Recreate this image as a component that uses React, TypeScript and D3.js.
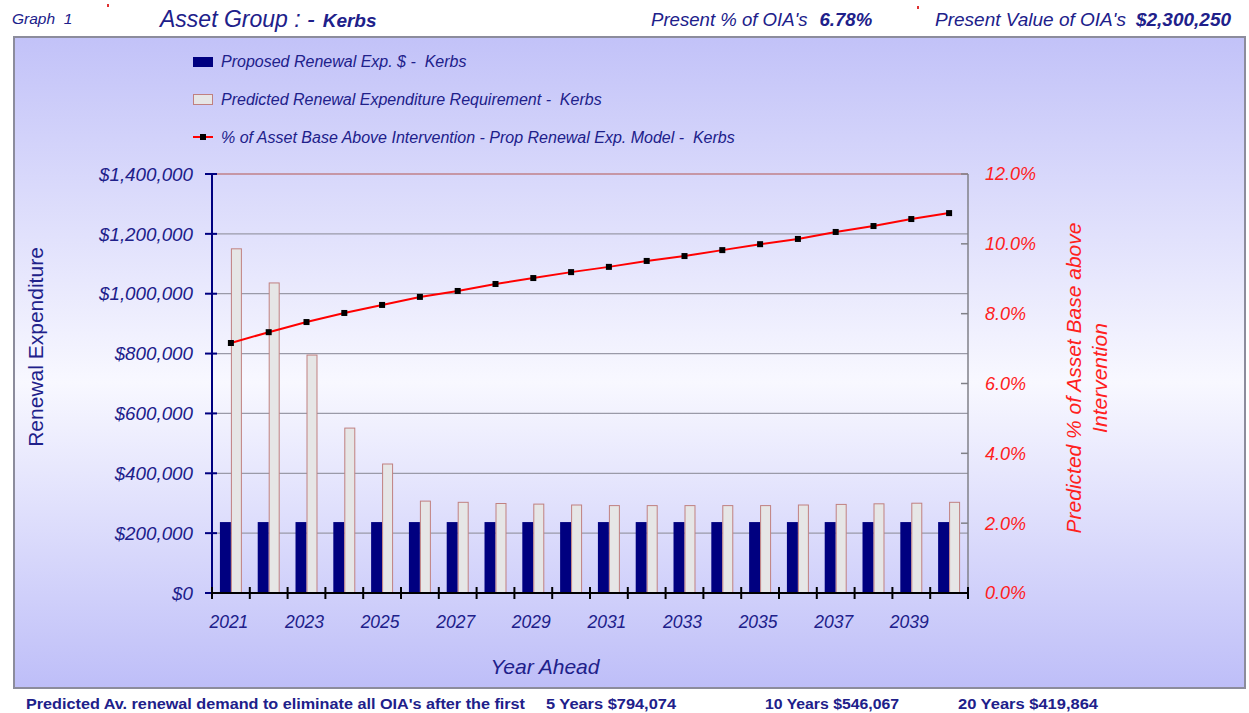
import React, { useEffect } from 'react';
import * as d3 from 'd3';

const years = d3.range(2021, 2041).map(String);
const proposed = [237000, 237000, 237000, 237000, 237000, 237000, 237000, 237000, 237000, 237000,
  237000, 237000, 237000, 237000, 237000, 237000, 237000, 237000, 237000, 237000];
const predicted = [1150000, 1036000, 795000, 551000, 431000, 307000, 303000, 299000, 297000, 294000,
  292000, 292000, 292000, 292000, 292000, 294000, 296000, 298000, 300000, 303000];
const pctAbove = [7.16, 7.47, 7.76, 8.02, 8.25, 8.48, 8.65, 8.85, 9.02, 9.19,
  9.34, 9.51, 9.65, 9.82, 9.99, 10.14, 10.34, 10.51, 10.71, 10.88];
const dollarTicks = [0, 200000, 400000, 600000, 800000, 1000000, 1200000, 1400000];
const pctTicks = [0, 2, 4, 6, 8, 10, 12];
const yearLabels = years.filter((d, i) => i % 2 === 0);
const seriesNames = ['Proposed Renewal Exp. $ -\u00a0 Kerbs', 'Predicted Renewal Expenditure Requirement -\u00a0 Kerbs',
  '% of Asset Base Above Intervention - Prop Renewal Exp. Model -\u00a0 Kerbs'];

const NAVY = '#000080';
const TXT = '#20208a';
const FONT = 'Arial, "Liberation Sans", sans-serif';
const NARROW = '"Liberation Sans Narrow", "Arial Narrow", Arial, sans-serif';

const App = () => {
  useEffect(() => { document.body.style.margin = '0'; }, []);

  const W = 1249, H = 713;
  const left = 212, right = 968, top = 174, bottom = 593;

  const x = d3.scaleBand().domain(years).range([left, right]).padding(0);
  const x1 = d3.scaleBand().domain(['prop', 'pred']).range([0, x.bandwidth()]).paddingInner(0).paddingOuter(0.72);
  const y = d3.scaleLinear().domain([0, 1400000]).range([bottom, top]);
  const y2 = d3.scaleLinear().domain([0, 12]).range([bottom, top]);
  const fmtDollar = d3.format('$,');
  const line = d3.line<number>().x((d, i) => x(years[i])! + x.bandwidth() / 2).y(d => y2(d));
  const xTicks = [...years.map(d => x(d)!), right];

  return (
    <svg width={W} height={H} style={{ display: 'block', fontFamily: FONT }}>
      <defs>
        <linearGradient id="bg" x1="0" y1="0" x2="0" y2="1">
          <stop offset="0" stopColor="#c2c2f8" />
          <stop offset="0.53" stopColor="#f8f8ff" />
          <stop offset="1" stopColor="#bebef8" />
        </linearGradient>
      </defs>
      <rect width={W} height={H} fill="#fff" />

      {/* header */}
      <text x={12} y={24} fontSize={15.5} fontStyle="italic" fill={TXT}>{'Graph\u00a0 1'}</text>
      <text x={160} y={27} fontSize={23} fontStyle="italic" fill={TXT}>Asset Group : -
        <tspan dx={8} fontSize={19} fontWeight="bold">Kerbs</tspan></text>
      <text x={651} y={26} fontSize={18.6} fontStyle="italic" fill={TXT}>Present % of OIA's
        <tspan dx={12} fontWeight="bold">6.78%</tspan></text>
      <text x={935} y={26} fontSize={19} fontStyle="italic" fill={TXT}>Present Value of OIA's
        <tspan dx={10} fontWeight="bold">$2,300,250</tspan></text>
      <rect x={107} y={4} width={2} height={3} fill="#e03030" />
      <rect x={917} y={6} width={2} height={3} fill="#e03030" />

      {/* panel */}
      <rect x={14} y={37} width={1231} height={651} fill="url(#bg)" stroke="#8c8c9c" strokeWidth={2} />

      {/* legend */}
      <rect x={193} y={57} width={20} height={10} fill={NAVY} />
      <rect x={193.5} y={94.5} width={19} height={10} fill="#e6e6e6" stroke="#c08080" />
      <line x1={193} x2={213} y1={137} y2={137} stroke="#ff0000" strokeWidth={2} />
      <rect x={200} y={134} width={6} height={6} fill="#000" />
      {seriesNames.map((s, i) => (
        <text key={s} x={221} y={67 + i * 38} fontSize={16} fontStyle="italic" fill={TXT}>{s}</text>
      ))}

      {/* gridlines */}
      {dollarTicks.slice(1).map(t => (
        <line key={t} x1={left} x2={right} y1={y(t)} y2={y(t)}
          stroke={t === 1400000 ? '#c08088' : '#9a9aa8'} strokeWidth={1.3} />
      ))}

      {/* bars */}
      {years.map((yr, i) => (
        <g key={yr}>
          <rect x={x(yr)! + x1('prop')!} y={y(proposed[i])} width={x1.bandwidth()}
            height={y(0) - y(proposed[i])} fill={NAVY} />
          <rect x={x(yr)! + x1('pred')! + 0.5} y={y(predicted[i])} width={x1.bandwidth() - 1}
            height={y(0) - y(predicted[i])} fill="#e6e6e6" stroke="#c08080" strokeWidth={1} />
        </g>
      ))}

      {/* line */}
      <path d={line(pctAbove)!} fill="none" stroke="#ff0000" strokeWidth={2} />
      {pctAbove.map((v, i) => (
        <rect key={i} x={x(years[i])! + x.bandwidth() / 2 - 3} y={y2(v) - 3} width={6} height={6} fill="#000" />
      ))}

      {/* left axis */}
      <line x1={left} x2={left} y1={top} y2={bottom} stroke={NAVY} strokeWidth={2} />
      {dollarTicks.map(t => (
        <g key={t}>
          <line x1={left - 7} x2={left + 5} y1={y(t)} y2={y(t)} stroke={NAVY} strokeWidth={2} />
          <text x={193} y={y(t)} dy="0.36em" textAnchor="end" fontSize={18.8} fontStyle="italic" fill={TXT}>{fmtDollar(t)}</text>
        </g>
      ))}
      <text transform={`translate(43,347) rotate(-90)`} textAnchor="middle" fontSize={21} fill={TXT}>Renewal Expenditure</text>

      {/* right axis */}
      <line x1={right} x2={right} y1={top} y2={bottom} stroke="#808088" strokeWidth={1.5} />
      {pctTicks.map(t => (
        <g key={t}>
          <line x1={right - 7} x2={right} y1={y2(t)} y2={y2(t)} stroke="#808088" strokeWidth={1.5} />
          <text x={985} y={y2(t)} dy="0.36em" fontSize={18} fontStyle="italic" fill="#ff2020">{t.toFixed(1)}%</text>
        </g>
      ))}
      <text transform={`translate(1081,378) rotate(-90)`} textAnchor="middle" fontSize={21} fontStyle="italic" fill="#ff2020">Predicted % of Asset Base above</text>
      <text transform={`translate(1107,378) rotate(-90)`} textAnchor="middle" fontSize={21} fontStyle="italic" fill="#ff2020">Intervention</text>

      {/* x axis */}
      <line x1={left} x2={right} y1={bottom} y2={bottom} stroke="#000" strokeWidth={2} />
      {xTicks.map((t, i) => (
        <line key={i} x1={t} x2={t} y1={bottom - 6} y2={bottom + 6} stroke="#000" strokeWidth={2} />
      ))}
      {yearLabels.map(yr => (
        <text key={yr} x={x(yr)! + x.bandwidth() / 2 - 2} y={628} textAnchor="middle" fontSize={17.5} fontStyle="italic" fill={TXT}>{yr}</text>
      ))}
      <text x={545} y={674} textAnchor="middle" fontSize={21} fontStyle="italic" fill={TXT}>Year Ahead</text>

      {/* footer */}
      <g fontFamily={NARROW} fontWeight="bold" fontSize={14} fill={TXT}>
        <text x={26} y={709} textLength={499} lengthAdjust="spacingAndGlyphs">Predicted Av. renewal demand to eliminate all OIA's after the first</text>
        <text x={546} y={709} textLength={130} lengthAdjust="spacingAndGlyphs">5 Years $794,074</text>
        <text x={765} y={709} textLength={134} lengthAdjust="spacingAndGlyphs">10 Years $546,067</text>
        <text x={958} y={709} textLength={140} lengthAdjust="spacingAndGlyphs">20 Years $419,864</text>
      </g>
    </svg>
  );
};

export default App;
